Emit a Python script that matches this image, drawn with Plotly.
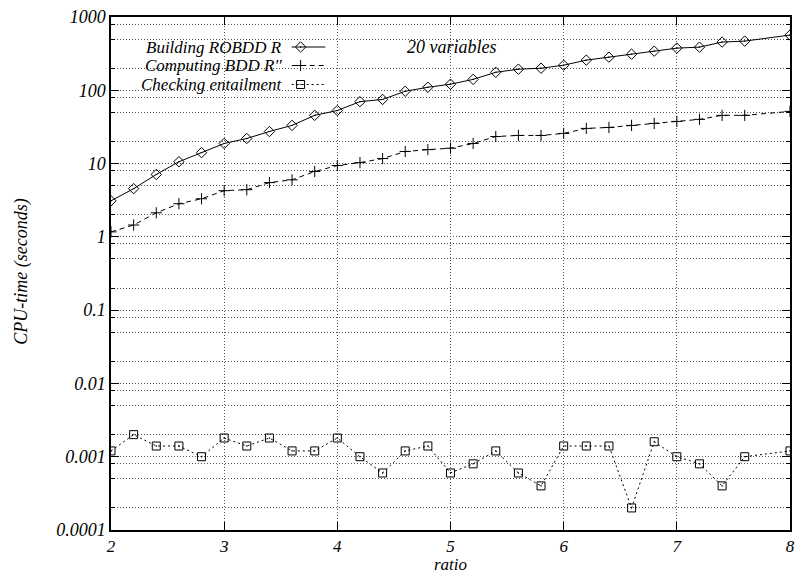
import plotly.graph_objects as go

# ---------------- data ----------------
ratio = [2.0, 2.2, 2.4, 2.6, 2.8, 3.0, 3.2, 3.4, 3.6, 3.8,
         4.0, 4.2, 4.4, 4.6, 4.8, 5.0, 5.2, 5.4, 5.6, 5.8,
         6.0, 6.2, 6.4, 6.6, 6.8, 7.0, 7.2, 7.4, 7.6, 8.0]

building = [3.1, 4.55, 7.1, 10.6, 14.1, 18.8, 22, 27.4, 33.2, 45.5,
            53, 70, 75, 97, 110, 121, 141, 176, 194, 200,
            220, 258, 283, 311, 342, 376, 388, 455, 469, 567]

computing = [1.17, 1.45, 2.13, 2.83, 3.31, 4.27, 4.4, 5.5, 6.0, 7.8,
             9.4, 10.3, 11.7, 14.6, 15.5, 16.2, 18.8, 23.4, 24.2, 24.2,
             25.8, 30.2, 31.1, 33.2, 35.3, 37.6, 40.1, 45.5, 45.5, 51.5]

checking = [0.0012, 0.002, 0.0014, 0.0014, 0.001, 0.0018, 0.0014, 0.0018, 0.0012, 0.0012,
            0.0018, 0.001, 0.0006, 0.0012, 0.0014, 0.0006, 0.0008, 0.0012, 0.0006, 0.0004,
            0.0014, 0.0014, 0.0014, 0.0002, 0.0016, 0.001, 0.0008, 0.0004, 0.001, 0.0012]

series_names = ["Building ROBDD R", "Computing BDD R''", "Checking entailment"]

x_ticks = [2, 3, 4, 5, 6, 7, 8]
y_ticks = [0.0001, 0.001, 0.01, 0.1, 1, 10, 100, 1000]
y_tick_text = ["0.0001", "0.001", "0.01", "0.1", "1", "10", "100", "1000"]
y_minor = [m * d for d in [0.0001, 0.001, 0.01, 0.1, 1, 10, 100] for m in (2, 5, 8)]

# ---------------- layout constants ----------------
W, H = 800, 575
L, R, T, B = 111, 795, 17, 530
FONT = "Liberation Serif"
GRID = "#555555"
GRID_DASH = "1px,2px"
FS = 18
FS_SMALL = 17

def px_x(p):
    return (p - L) / (R - L)

def px_y(p):
    return (B - p) / (B - T)

styles = [
    dict(dash="solid", symbol="diamond-open-dot", size=8),
    dict(dash="5px,4px", symbol="cross-thin-open", size=8),
    dict(dash="2px,3px", symbol="square-open-dot", size=8),
]

fig = go.Figure()
for name, ys, st in zip(series_names, [building, computing, checking], styles):
    fig.add_trace(go.Scatter(
        x=ratio, y=ys, mode="lines+markers", name=name,
        line=dict(color="black", width=1, dash=st["dash"]),
        marker=dict(symbol=st["symbol"], size=st["size"], color="black",
                    line=dict(color="black", width=1)),
        showlegend=False,
    ))

# legend (gnuplot style: text right-aligned, sample to the right)
row_y = [47, 65.5, 84.5]
annotations = []
for name, st, ry in zip(series_names, styles, row_y):
    fig.add_trace(go.Scatter(
        x=[px_x(293), px_x(327)], y=[px_y(ry), px_y(ry)], mode="lines",
        line=dict(color="black", width=1, dash=st["dash"]),
        xaxis="x2", yaxis="y2", showlegend=False, hoverinfo="skip"))
    fig.add_trace(go.Scatter(
        x=[px_x(302)], y=[px_y(ry)], mode="markers",
        marker=dict(symbol=st["symbol"], size=st["size"], color="black",
                    line=dict(color="black", width=1)),
        xaxis="x2", yaxis="y2", showlegend=False, hoverinfo="skip"))
    annotations.append(dict(
        x=px_x(284), y=px_y(ry), xref="paper", yref="paper",
        text=name, showarrow=False, xanchor="right", yanchor="middle",
        borderpad=0,
        font=dict(family=FONT, size=FS_SMALL, color="black", style="italic")))

annotations.append(dict(
    x=px_x(407), y=px_y(47), xref="paper", yref="paper",
    text="20 variables", showarrow=False, xanchor="left", yanchor="middle",
    font=dict(family=FONT, size=FS, color="black", style="italic")))
annotations.append(dict(
    x=px_x(453), y=(B - 575) / (B - T), xref="paper", yref="paper",
    text="ratio", showarrow=False, xanchor="center", yanchor="bottom",
    borderpad=0,
    font=dict(family=FONT, size=FS_SMALL, color="black", style="italic")))
annotations.append(dict(
    x=(20 - L) / (R - L), y=px_y(272), xref="paper", yref="paper",
    text="CPU-time (seconds)", showarrow=False, textangle=-90,
    xanchor="center", yanchor="middle",
    font=dict(family=FONT, size=FS, color="black", style="italic")))

fig.update_layout(
    width=W, height=H,
    margin=dict(l=L, r=W - R, t=T, b=H - B, pad=0),
    plot_bgcolor="white", paper_bgcolor="white",
    showlegend=False,
    annotations=annotations,
    xaxis=dict(
        range=[2, 8], tickmode="array", tickvals=x_ticks,
        ticks="inside", ticklen=8, tickcolor="black", tickwidth=1,
        showline=True, linecolor="black", linewidth=1.5, mirror="allticks",
        showgrid=True, gridcolor=GRID, griddash=GRID_DASH, gridwidth=1,
        tickfont=dict(family=FONT, size=FS_SMALL, color="black", style="italic"),
        zeroline=False,
    ),
    yaxis=dict(
        type="log", range=[-4, 3], tickmode="array",
        tickvals=y_ticks, ticktext=y_tick_text,
        ticks="inside", ticklen=8, tickcolor="black", tickwidth=1,
        showline=True, linecolor="black", linewidth=1.5, mirror="allticks",
        showgrid=True, gridcolor=GRID, griddash=GRID_DASH, gridwidth=1,
        tickfont=dict(family=FONT, size=FS, color="black", style="italic"),
        zeroline=False,
        minor=dict(tickmode="array", tickvals=y_minor, ticks="inside", ticklen=4,
                   tickcolor="black", showgrid=True, gridcolor=GRID,
                   griddash=GRID_DASH, gridwidth=1),
    ),
    xaxis2=dict(range=[0, 1], overlaying="x", visible=False, fixedrange=True),
    yaxis2=dict(range=[0, 1], overlaying="y", visible=False, fixedrange=True),
)

fig.write_html("out.html", config={"displayModeBar": False},
               post_script="document.body.style.margin='0';")
